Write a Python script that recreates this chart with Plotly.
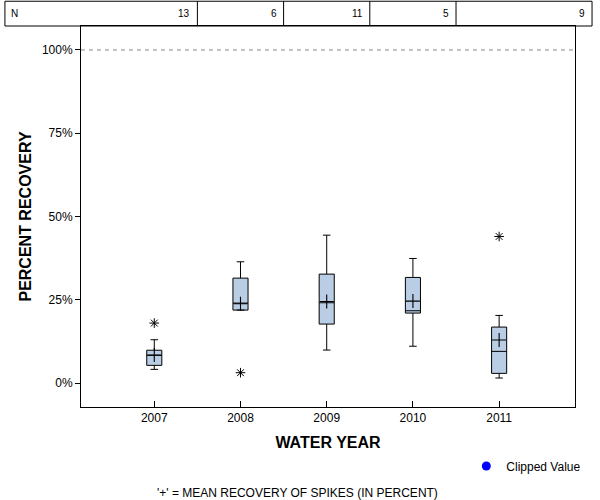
import plotly.graph_objects as go

years = ["2007", "2008", "2009", "2010", "2011"]
n_counts = ["13", "6", "11", "5", "9"]
upper = [13.0, 36.4, 44.4, 37.4, 20.3]
q3 = [9.85, 31.5, 32.7, 31.7, 16.8]
median = [8.3, 24.0, 24.1, 21.7, 9.5]
q1 = [5.3, 21.9, 17.7, 21.0, 2.9]
lower = [4.1, 21.9, 9.9, 11.05, 1.5]
means = [8.4, 23.8, 24.5, 24.6, 12.9]
outlier_years = ["2007", "2008", "2011"]
outlier_vals = [18.0, 3.1, 44.0]
ytick_vals = [0, 25, 50, 75, 100]
ytick_text = ["0%", "25%", "50%", "75%", "100%"]

FONT = "Arial, Liberation Sans, sans-serif"

fig = go.Figure()
fig.add_trace(go.Box(
    x=years, q1=q1, median=median, q3=q3, lowerfence=lower, upperfence=upper,
    width=0.175, whiskerwidth=0.5, fillcolor="#B9CDE5",
    line=dict(color="black", width=1), boxpoints=False, showlegend=False,
    hoverinfo="skip",
))
fig.add_trace(go.Scatter(
    x=years, y=means, mode="markers", showlegend=False,
    marker=dict(symbol="cross-thin-open", size=10, color="black",
                line=dict(color="black", width=1.1)),
))
fig.add_trace(go.Scatter(
    x=outlier_years, y=outlier_vals, mode="markers", showlegend=False,
    marker=dict(symbol="asterisk-open", size=8, color="black",
                line=dict(color="black", width=1)),
))
fig.add_trace(go.Scatter(
    x=[None], y=[None], mode="markers", name="Clipped Value",
    marker=dict(symbol="circle", size=9, color="#0000FF"),
))

shapes = [
    dict(type="line", xref="paper", yref="y", x0=0, x1=1, y0=100, y1=100,
         line=dict(color="#888888", width=1, dash="4px,4px")),
    dict(type="rect", xref="paper", yref="paper", x0=-0.154, x1=1.0345,
         y0=1.0, y1=1.065, line=dict(color="black", width=1)),
]
for i in range(len(years) - 1):
    shapes.append(dict(type="line", xref="x", yref="paper", x0=i + 0.5, x1=i + 0.5,
                       y0=1.0, y1=1.065, line=dict(color="black", width=1)))

annotations = [dict(text="N", xref="paper", yref="paper", x=-0.146, y=1.032,
                    xanchor="left", yanchor="middle", showarrow=False,
                    font=dict(family=FONT, size=10, color="black"))]
for i, n in enumerate(n_counts):
    if i < len(n_counts) - 1:
        annotations.append(dict(text=n, xref="x", yref="paper", x=i + 0.5, xshift=-5,
                                y=1.032, xanchor="right", yanchor="middle", showarrow=False,
                                font=dict(family=FONT, size=10, color="black")))
    else:
        annotations.append(dict(text=n, xref="paper", yref="paper", x=1.0345, xshift=-5,
                                y=1.032, xanchor="right", yanchor="middle", showarrow=False,
                                font=dict(family=FONT, size=10, color="black")))
annotations.append(dict(text="'+' = MEAN RECOVERY OF SPIKES (IN PERCENT)",
                        xref="paper", yref="paper", x=0.439, y=-0.226,
                        xanchor="center", yanchor="middle", showarrow=False,
                        font=dict(family=FONT, size=12, color="black")))

fig.update_layout(
    width=600, height=500,
    margin=dict(l=81, r=25, t=26, b=93, autoexpand=False),
    plot_bgcolor="white", paper_bgcolor="white",
    font=dict(family=FONT, size=12, color="black"),
    shapes=shapes, annotations=annotations,
    legend=dict(x=0.78, y=-0.155, xanchor="left", yanchor="middle",
                font=dict(family=FONT, size=12, color="black"),
                bgcolor="rgba(0,0,0,0)", itemwidth=30),
    xaxis=dict(type="category", categoryorder="array", categoryarray=years,
               range=[-0.85, 4.88], showline=True, linecolor="black", linewidth=1,
               mirror=True, ticks="inside", ticklen=6, tickcolor="black",
               showgrid=False, zeroline=False,
               title=dict(text="<b>WATER YEAR</b>", font=dict(family=FONT, size=16),
                          standoff=12)),
    yaxis=dict(range=[-7.2, 107.2], tickvals=ytick_vals, ticktext=ytick_text,
               showline=True, linecolor="black", linewidth=1, mirror=True,
               ticks="outside", ticklen=5, tickcolor="black",
               showgrid=False, zeroline=False,
               title=dict(text="<b>PERCENT RECOVERY</b>", font=dict(family=FONT, size=16),
                          standoff=6)),
)

fig.write_html("out.html", config={"displayModeBar": False},
               post_script="document.body.style.margin='0';")
